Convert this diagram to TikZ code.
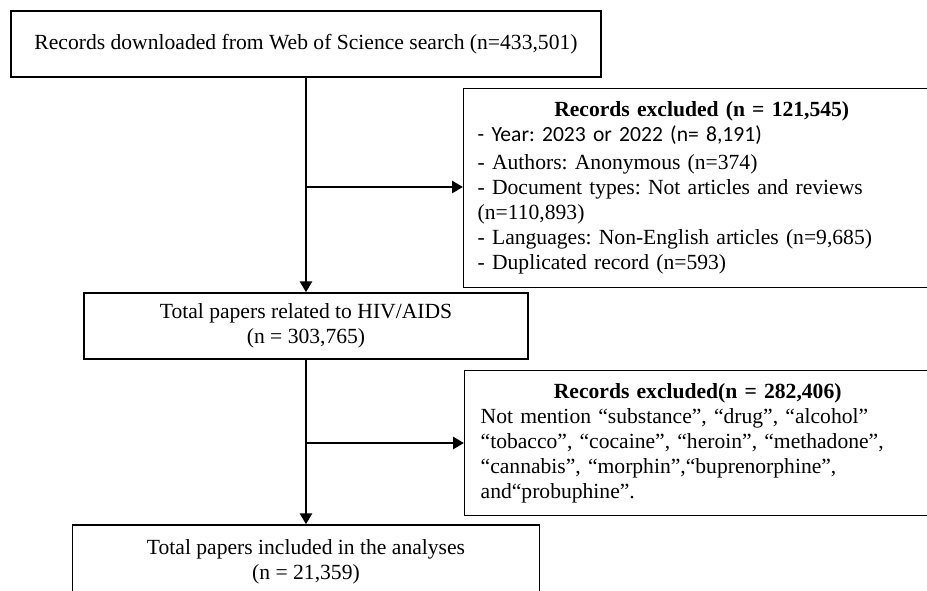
\documentclass[tikz,border=0pt]{standalone}
\usepackage{fontspec}
\setmainfont{Liberation Serif}
\newfontfamily\calibri{Carlito}
\usetikzlibrary{arrows.meta}
\frenchspacing

\begin{document}
\begin{tikzpicture}[x=0.5pt, y=-0.5pt,
    box/.style={draw, line width=0.7pt, inner sep=0pt,
        font=\fontsize{10.8}{12.5}\selectfont},
    flow/.style={-{Triangle[length=5.5pt, width=6pt]}, line width=1.4pt}]

    \useasboundingbox (0,0) rectangle (927,590);
    \clip (0,0) rectangle (927,590);

    \node[box, minimum width=295pt, minimum height=33pt] (download) at (306,44)
        {Records downloaded from Web of Science search (n=433,501)};

    \node[box, anchor=north west, text width=224pt, inner xsep=7pt,
        minimum height=99.5pt, align=left] (excl1) at (463,88)
        {\centerline{\bfseries Records excluded (n = 121,545)}
        {\calibri - Year: 2023 or 2022 (n= 8,191)}\\[1.5pt]
        - Authors: Anonymous (n=374)\\
        - Document types: Not articles and reviews\\
        (n=110,893)\\
        - Languages: Non-English articles (n=9,685)\\
        - Duplicated record (n=593)};

    \node[box, minimum width=222pt, minimum height=33pt, align=center] (total) at (306,326)
        {Total papers related to HIV/AIDS\\(n = 303,765)};

    \node[box, anchor=north west, text width=217pt, inner xsep=8pt,
        minimum height=72.5pt, align=left] (excl2) at (464,370)
        {\centerline{\bfseries Records excluded(n = 282,406)}
        Not mention “substance”, “drug”, “alcohol”\\
        “tobacco”, “cocaine”, “heroin”, “methadone”,\\
        “cannabis”, “morphin”,“buprenorphine”,\\
        and“probuphine”.};

    \node[box, minimum width=233.5pt, minimum height=37pt, align=center] (final) at (306,562)
        {Total papers included in the analyses\\(n = 21,359)};

    \coordinate (split1) at (306,187);
    \coordinate (split2) at (306,443);

    \draw[flow] (download) -- (total);
    \draw[flow] (total) -- (final);
    \draw[flow] (split1) -- (split1 -| excl1.west);
    \draw[flow] (split2) -- (split2 -| excl2.west);

\end{tikzpicture}
\end{document}
